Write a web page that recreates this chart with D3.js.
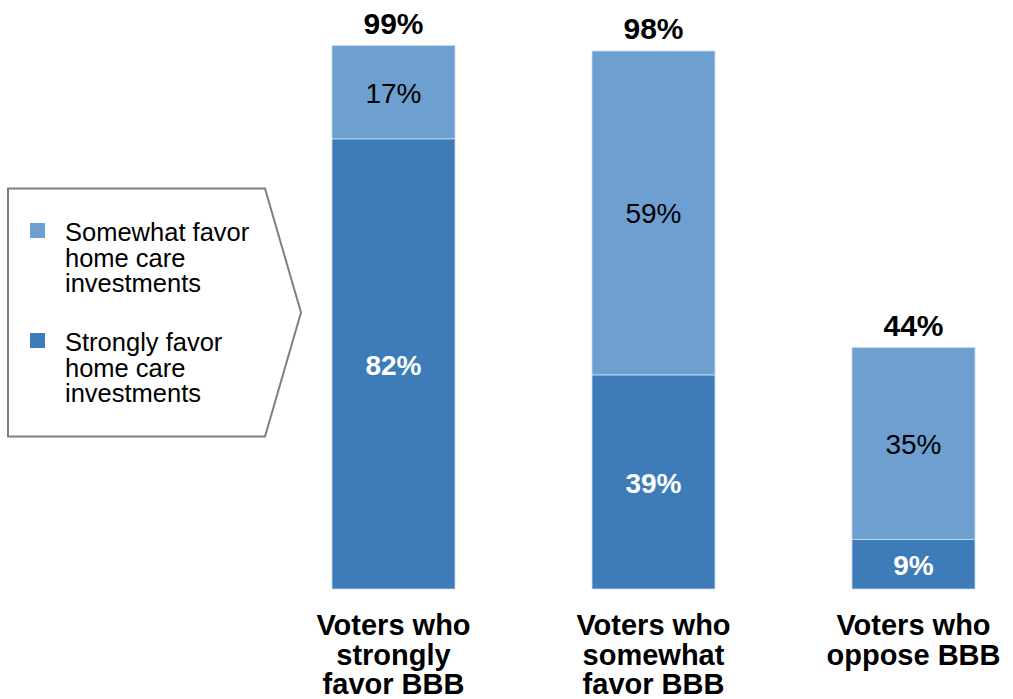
<!DOCTYPE html>
<html>
<head>
<meta charset="utf-8">
<script src="https://cdn.jsdelivr.net/npm/d3@7"></script>
<style>
  html, body { margin: 0; padding: 0; background: #fff; }
  svg { display: block; font-family: "Liberation Sans", Arial, sans-serif; }
</style>
</head>
<body>
<svg id="chart" width="1013" height="699"></svg>
<script>
const categories = ["Voters who strongly favor BBB", "Voters who somewhat favor BBB", "Voters who oppose BBB"];
const categoryLines = [["Voters who", "strongly", "favor BBB"], ["Voters who", "somewhat", "favor BBB"], ["Voters who", "oppose BBB"]];
const strongly = [82, 39, 9];
const somewhat = [17, 59, 35];
const totals = [99, 98, 44];
const seriesNames = ["Somewhat favor home care investments", "Strongly favor home care investments"];
const legendLines = [["Somewhat favor", "home care", "investments"], ["Strongly favor", "home care", "investments"]];

const colorLight = "#6e9fd1";
const colorDark = "#3e7cb9";

const svg = d3.select("#chart");

const y = d3.scaleLinear().domain([0, 100]).range([589, 40]);
const x = d3.scalePoint().domain(categories).range([393.5, 913.5]);
const barW = 123;

const data = categories.map((c, i) => ({ c, strong: strongly[i], some: somewhat[i], total: totals[i], lines: categoryLines[i] }));

const g = svg.append("g");

// strongly segment (bottom)
g.selectAll("rect.strong").data(data).join("rect")
  .attr("class", "strong")
  .attr("x", d => x(d.c) - barW / 2)
  .attr("width", barW)
  .attr("y", d => y(d.strong))
  .attr("height", d => y(0) - y(d.strong))
  .attr("fill", colorDark)
  .attr("stroke", "#cddcee").attr("stroke-width", 0.8);

// somewhat segment (top)
g.selectAll("rect.some").data(data).join("rect")
  .attr("class", "some")
  .attr("x", d => x(d.c) - barW / 2)
  .attr("width", barW)
  .attr("y", d => y(d.strong + d.some))
  .attr("height", d => y(d.strong) - y(d.strong + d.some))
  .attr("fill", colorLight)
  .attr("stroke", "#cddcee").attr("stroke-width", 0.8);

// inner labels
g.selectAll("text.strongLbl").data(data).join("text")
  .attr("x", d => x(d.c))
  .attr("y", d => (y(0) + y(d.strong)) / 2)
  .attr("dy", "0.4em")
  .attr("text-anchor", "middle")
  .attr("font-size", 28).attr("font-weight", "bold").attr("fill", "#fff")
  .text(d => d.strong + "%");

g.selectAll("text.someLbl").data(data).join("text")
  .attr("x", d => x(d.c))
  .attr("y", d => (y(d.strong) + y(d.strong + d.some)) / 2)
  .attr("dy", "0.37em")
  .attr("text-anchor", "middle")
  .attr("font-size", 28).attr("fill", "#000")
  .text(d => d.some + "%");

// totals
g.selectAll("text.total").data(data).join("text")
  .attr("x", d => x(d.c))
  .attr("y", d => y(d.total) - 11.5)
  .attr("text-anchor", "middle")
  .attr("font-size", 30).attr("font-weight", "bold").attr("fill", "#000")
  .text(d => d.total + "%");

// category labels
const cat = g.selectAll("text.cat").data(data).join("text")
  .attr("text-anchor", "middle")
  .attr("font-size", 29).attr("font-weight", "bold").attr("fill", "#000");
cat.selectAll("tspan").data(d => d.lines.map(l => ({ l, x: x(d.c) }))).join("tspan")
  .attr("x", d => d.x)
  .attr("y", (d, i) => 635 + i * 29.5)
  .text(d => d.l);

// legend callout shape
const legend = svg.append("g");
legend.append("path")
  .attr("d", d3.line()([[8, 188.5], [265, 188.5], [301, 312.5], [265, 436.5], [8, 436.5]]) + "Z")
  .attr("fill", "#fff")
  .attr("stroke", "#7f7f7f")
  .attr("stroke-width", 2);

const legendColors = [colorLight, colorDark];
const legendTop = [223, 333];
const li = legend.selectAll("g.item").data(seriesNames).join("g").attr("class", "item");
li.append("rect")
  .attr("x", 30).attr("y", (d, i) => legendTop[i])
  .attr("width", 15).attr("height", 15)
  .attr("fill", (d, i) => legendColors[i]);
li.append("text")
  .attr("font-size", 25.5).attr("fill", "#000")
  .each(function (d, i) {
    d3.select(this).selectAll("tspan").data(legendLines[i]).join("tspan")
      .attr("x", 65)
      .attr("y", (l, j) => legendTop[i] + 18 + j * 25.5)
      .text(l => l);
  });
</script>
</body>
</html>
